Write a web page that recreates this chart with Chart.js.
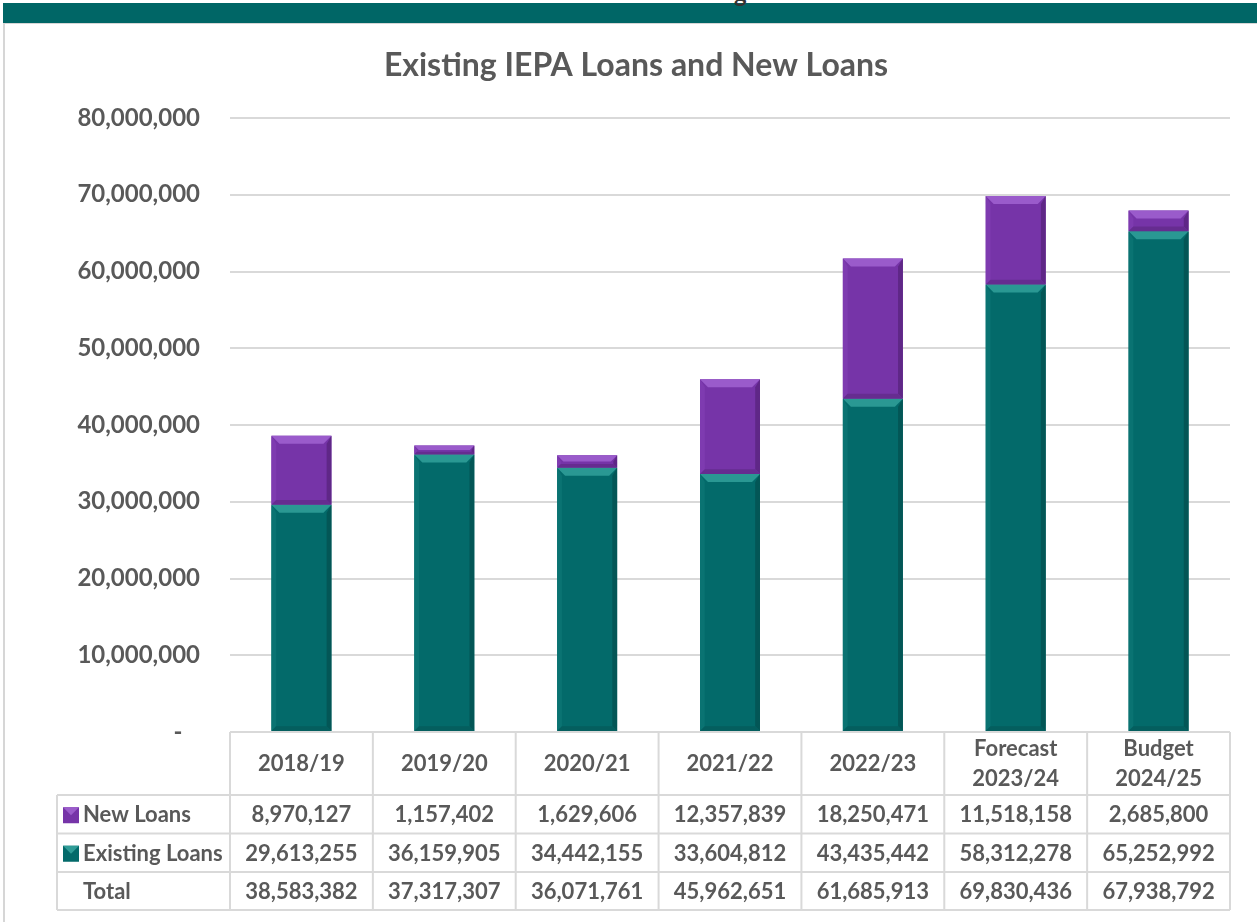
<!DOCTYPE html>
<html>
<head>
<meta charset="utf-8">
<script src="https://cdn.jsdelivr.net/npm/chart.js@4"></script>
<style>
  body { margin: 0; background: #fff; }
  #band { position: absolute; left: 3px; top: 3px; width: 1254px; height: 20px; background: #006666; }
  #frame { position: absolute; left: 3px; top: 23px; width: 1254px; height: 899px;
           border-left: 2px solid #d6d6d6; border-top: 1px solid #d6d6d6; box-sizing: border-box; }
  #cut { position: absolute; left: 734px; top: -22px; font: bold 24px Lato, sans-serif; color: #333; }
  #wrap { position: absolute; left: 0; top: 0; width: 1257px; height: 922px; }
</style>
</head>
<body>
<div id="band"></div>
<div id="cut">g</div>
<div id="frame"></div>
<div id="wrap"><canvas id="chart-loans" width="1257" height="922"></canvas></div>
<script>
/* =====================
   DATA
===================== */

const categories = [['2018/19'], ['2019/20'], ['2020/21'], ['2021/22'], ['2022/23'], ['Forecast', '2023/24'], ['Budget', '2024/25']];
const newLoans = [8970127, 1157402, 1629606, 12357839, 18250471, 11518158, 2685800];
const existingLoans = [29613255, 36159905, 34442155, 33604812, 43435442, 58312278, 65252992];
const totals = [38583382, 37317307, 36071761, 45962651, 61685913, 69830436, 67938792];
const chartTitle = 'Existing IEPA Loans and New Loans';

const TEAL = '#036a6a';
const PURPLE = '#7634a8';
const TEXT = '#595959';
const FONT = 'Lato, "Open Sans", sans-serif';


/* =====================
   PLUGINS
===================== */

// title, centred on the whole frame rather than on the plot box
const titlePlugin = {
    id: 'frameTitle',
    afterDraw(chart) {
        const ctx = chart.ctx;
        ctx.save();
        ctx.fillStyle = TEXT;
        ctx.font = 'bold 32px ' + FONT;
        ctx.textAlign = 'center';
        ctx.textBaseline = 'middle';
        ctx.fillText(chartTitle, 636, 66);
        ctx.restore();
    }
};

// bevelled look on the bars
const bevelPlugin = {
    id: 'bevel',
    afterDatasetsDraw(chart) {
        const ctx = chart.ctx;
        const shades = [
            { top: '#2a9893', side: '#0a7372', dark: '#035656', bottom: '#045e5e' },
            { top: '#9a5bcb', side: '#7e3bb0', dark: '#5f2787', bottom: '#662c90' }
        ];
        chart.data.datasets.forEach((ds, di) => {
            const meta = chart.getDatasetMeta(di);
            const s = shades[di];
            meta.data.forEach(bar => {
                const l = bar.x - bar.width / 2, r = bar.x + bar.width / 2;
                const t = Math.min(bar.y, bar.base), b = Math.max(bar.y, bar.base);
                const d = Math.min(8, (b - t) / 2);
                const poly = (pts, c) => {
                    ctx.beginPath();
                    ctx.moveTo(pts[0][0], pts[0][1]);
                    pts.slice(1).forEach(p => ctx.lineTo(p[0], p[1]));
                    ctx.closePath();
                    ctx.fillStyle = c;
                    ctx.fill();
                };
                ctx.save();
                poly([[l, t], [r, t], [r - d, t + d], [l + d, t + d]], s.top);
                poly([[l, t], [l + d * 0.6, t + d], [l + d * 0.6, b - d * 0.6], [l, b]], s.side);
                poly([[r, t], [r - d * 0.6, t + d], [r - d * 0.6, b - d * 0.6], [r, b]], s.dark);
                poly([[l, b], [l + d * 0.6, b - d * 0.6], [r - d * 0.6, b - d * 0.6], [r, b]], s.bottom);
                ctx.restore();
            });
        });
    }
};

// data table under the chart
const tablePlugin = {
    id: 'dataTable',
    afterDraw(chart) {
        const ctx = chart.ctx;
        const xs = chart.scales.x;
        const n = categories.length;
        const step = xs.width / n;
        const top = chart.chartArea.bottom;
        const legendLeft = 57;
        const rowsY = [top, top + 63, top + 101.5, top + 140, top + 178];
        const right = xs.left + n * step;

        ctx.save();
        ctx.strokeStyle = '#d9d9d9';
        ctx.lineWidth = 2;
        ctx.beginPath();
        ctx.moveTo(xs.left, rowsY[0]); ctx.lineTo(right, rowsY[0]);
        for (let i = 1; i < rowsY.length; i++) {
            ctx.moveTo(legendLeft, rowsY[i]); ctx.lineTo(right, rowsY[i]);
        }
        ctx.moveTo(legendLeft, rowsY[1]); ctx.lineTo(legendLeft, rowsY[4]);
        for (let i = 0; i <= n; i++) {
            const x = xs.left + i * step;
            ctx.moveTo(x, rowsY[0]); ctx.lineTo(x, rowsY[4]);
        }
        ctx.stroke();

        ctx.fillStyle = TEXT;
        ctx.font = 'bold 22px ' + FONT;
        ctx.textAlign = 'center';
        ctx.textBaseline = 'middle';

        const rows = [newLoans, existingLoans, totals];
        for (let i = 0; i < n; i++) {
            const cx = xs.left + (i + 0.5) * step;
            const lines = categories[i];
            const hMid = (rowsY[0] + rowsY[1]) / 2;
            lines.forEach((txt, k) => {
                ctx.fillText(txt, cx, hMid + (k - (lines.length - 1) / 2) * 30);
            });
            rows.forEach((vals, r) => {
                ctx.fillText(vals[i].toLocaleString('en-US'), cx, (rowsY[r + 1] + rowsY[r + 2]) / 2 + 1);
            });
        }

        // row labels with legend keys
        const labels = ['New Loans', 'Existing Loans', 'Total'];
        const keys = [PURPLE, TEAL, null];
        ctx.textAlign = 'left';
        labels.forEach((lab, r) => {
            const cy = (rowsY[r + 1] + rowsY[r + 2]) / 2 + 1;
            if (keys[r]) {
                ctx.fillStyle = keys[r];
                ctx.fillRect(63, cy - 8, 16, 16);
                ctx.fillStyle = r === 0 ? '#9b5ccb' : '#2f9c97';
                ctx.beginPath();
                ctx.moveTo(63, cy - 8); ctx.lineTo(79, cy - 8); ctx.lineTo(71, cy); ctx.closePath();
                ctx.fill();
            }
            ctx.fillStyle = TEXT;
            ctx.fillText(lab, 83, cy);
        });
        ctx.restore();
    }
};


/* =====================
   CREATE CHART
===================== */

const ctx = document.getElementById('chart-loans').getContext('2d');

const chartLoans = new Chart(ctx, {
    type: 'bar',
    data: {
        labels: categories,
        datasets: [{
            label: 'Existing Loans',
            data: existingLoans,
            backgroundColor: TEAL,
            barPercentage: 0.6,
            categoryPercentage: 0.7
        }, {
            label: 'New Loans',
            data: newLoans,
            backgroundColor: PURPLE,
            barPercentage: 0.6,
            categoryPercentage: 0.7
        }]
    },
    options: {
        responsive: false,
        animation: false,
        layout: { padding: { top: 118, right: 27, bottom: 190, left: 0 } },
        plugins: {
            legend: { display: false },
            tooltip: { enabled: false },
            title: { display: false }
        },
        scales: {
            x: { stacked: true, display: false },
            y: {
                stacked: true,
                min: 0,
                max: 80000000,
                border: { display: false },
                grid: { color: '#d9d9d9', lineWidth: 2, drawTicks: false },
                ticks: {
                    stepSize: 10000000,
                    padding: 30,
                    color: TEXT,
                    font: { family: FONT, size: 24, weight: 'bold' },
                    callback: v => v === 0 ? '-   ' : v.toLocaleString('en-US')
                },
                afterFit(scale) { scale.width = 230; }
            }
        }
    },
    plugins: [bevelPlugin, tablePlugin, titlePlugin]
});
</script>
</body>
</html>
